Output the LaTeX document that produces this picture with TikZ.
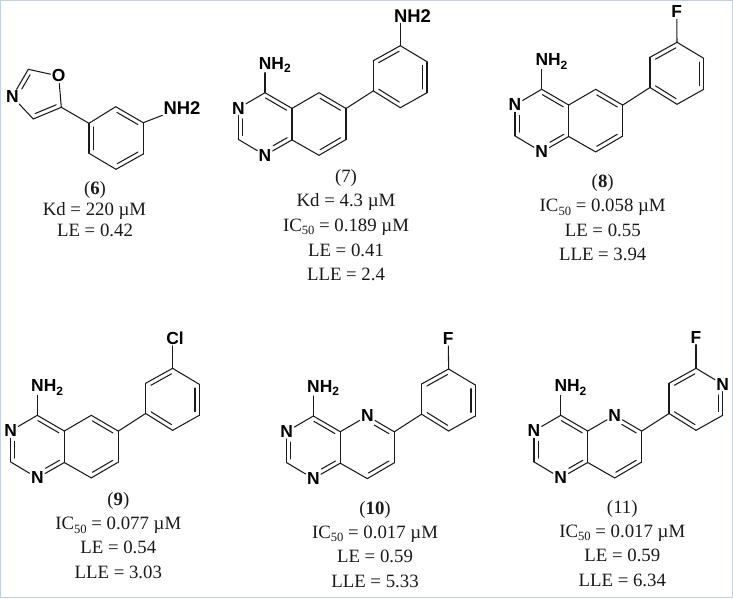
\documentclass[tikz,border=0pt]{standalone}
\usepackage{fontspec}
\setmainfont{Liberation Serif}
\newfontfamily\atomface{Liberation Sans}
\usetikzlibrary{calc}
\definecolor{framecol}{HTML}{C3D0E2}
\definecolor{inkcol}{HTML}{1A1A1A}
\newcommand{\atomtype}{\atomface\fontsize{17.4}{17.4}\selectfont\bfseries}
\newcommand{\bigatomtype}{\atomface\fontsize{18.4}{18.4}\selectfont\bfseries}
\newcommand{\subtwo}{\raisebox{-3.2pt}{\fontsize{12}{12}\selectfont 2}}
\newcommand{\subfifty}{\raisebox{-3.6pt}{\fontsize{12.6}{12.6}\selectfont 50}}
\tikzset{
  bond/.style={draw=inkcol,line width=1.05pt,line cap=round},
  atom/.style={font=\atomtype,text=black,inner sep=1.2pt},
  bigatom/.style={font=\bigatomtype,text=black,inner sep=1pt},
  amine/.style={font=\atomtype,text=black,inner sep=0pt,anchor=base west},
  capline/.style={font=\fontsize{18.8}{19}\selectfont,text=inkcol,anchor=base,inner sep=0pt},
}
% atom slots
\newcommand{\carbon}[2]{\coordinate (#1) at (#2);}
\newcommand{\nitrogen}[2]{\node[atom] (#1) at (#2) {N};}
% double bond: inner line lies to the right of a->b on the page
\newcommand{\dbl}[4]{%
  \draw[bond] (#1) -- (#2);
  \draw[bond] ($(#1)!#3!(#2)!4.3pt!-90:(#2)$) -- ($(#1)!#4!(#2)!4.3pt!-90:(#2)$);}
% fused bicycle: #1 prefix, #2,#3 position of C4, #4 slot for position 5, #5 inner start
\newcommand{\bicycle}[5]{%
  \begin{scope}[shift={(#2,#3)}]
    \coordinate (#1c4) at (0,0);
    \coordinate (#1c4a) at (27,15.7);
    \coordinate (#1c8a) at (27,47.2);
    \nitrogen{#1n1}{0,62.6}
    \coordinate (#1c2) at (-26.7,46.6);
    \nitrogen{#1n3}{-26.7,15.6}
    #4{#1c5}{54,0}
    \coordinate (#1c6) at (81,15.8);
    \coordinate (#1c7) at (81,46.8);
    \coordinate (#1c8) at (54,62.6);
    \node[amine] (#1nh) at (-6.3,-23.4) {NH\subtwo};
    \draw[bond] (#1c4) -- (#1nh.south -| #1c4);
    \dbl{#1c4}{#1c4a}{.1}{.88}
    \draw[bond] (#1c4a) -- (#1c8a);
    \dbl{#1c8a}{#1n1}{.1}{.62}
    \draw[bond] (#1n1) -- (#1c2);
    \dbl{#1c2}{#1n3}{.12}{.66}
    \draw[bond] (#1n3) -- (#1c4);
    \draw[bond] (#1c4a) -- (#1c5);
    \dbl{#1c5}{#1c6}{#5}{.88}
    \draw[bond] (#1c6) -- (#1c7);
    \dbl{#1c7}{#1c8}{.12}{.88}
    \draw[bond] (#1c8) -- (#1c8a);
  \end{scope}}
% pendant ring: #1 prefix, #2,#3 position of C4, #4 slot for ring position p4, #5 inner start
\newcommand{\pendant}[5]{%
  \begin{scope}[shift={(#2,#3)}]
    \coordinate (#1p1) at (108.3,-1.8);
    \coordinate (#1p2) at (108.3,-32);
    \coordinate (#1p3) at (135.3,-47);
    #4{#1p4}{162,-31}
    \coordinate (#1p5) at (162,0);
    \coordinate (#1p6) at (135.3,15);
    \draw[bond] (#1c6) -- (#1p1);
    \draw[bond] (#1p1) -- (#1p2);
    \dbl{#1p2}{#1p3}{.12}{.88}
    \draw[bond] (#1p3) -- (#1p4);
    \dbl{#1p4}{#1p5}{#5}{.88}
    \draw[bond] (#1p5) -- (#1p6);
    \dbl{#1p6}{#1p1}{.12}{.88}
  \end{scope}}
\begin{document}
\begin{tikzpicture}[x=1pt,y=-1pt]
\useasboundingbox (0,0) rectangle (733,598);
\fill[white] (0,0) rectangle (733,598);
\draw[framecol,line width=1.6pt] (0.4,0.4) rectangle (732.6,597.6);

% compound 6
\node[atom] (aO) at (58.7,76) {O};
\node[atom] (aN) at (12.3,96.7) {N};
\coordinate (aC2) at (28.3,69.3);
\coordinate (aC4) at (33.3,119);
\coordinate (aC5) at (61.3,107.3);
\coordinate (ap1) at (89,123.3);
\coordinate (ap2) at (115.7,106.7);
\coordinate (ap3) at (143.3,122.7);
\coordinate (ap4) at (143.3,154);
\coordinate (ap5) at (116,169.3);
\coordinate (ap6) at (89,153.3);
\node[bigatom] (aNH) at (182,107.7) {NH2};
\draw[bond] (aC2) -- (aO);
\draw[bond] (aO) -- (aC5);
\dbl{aC5}{aC4}{.12}{.88}
\draw[bond] (aC4) -- (aN);
\dbl{aN}{aC2}{.36}{.88}
\draw[bond] (aC5) -- (ap1);
\draw[bond] (ap1) -- (ap2);
\dbl{ap2}{ap3}{.12}{.88}
\draw[bond] (ap3) -- (ap4);
\dbl{ap4}{ap5}{.12}{.88}
\draw[bond] (ap5) -- (ap6);
\dbl{ap6}{ap1}{.12}{.88}
\draw[bond] (ap3) -- (aNH);
\node[capline] (a1) at (95,194) {(\textbf{6})};
\node[capline] (a2) at (94.5,215) {Kd = 220 µM};
\node[capline] (a3) at (95,236) {LE = 0.42};

% compound 7
\bicycle{b}{265}{92.7}{\carbon}{.12}
\pendant{b}{265}{92.7}{\carbon}{.12}
\node[bigatom] (bNH) at (412.4,15.7) {NH2};
\draw[bond] (bp3) -- (bNH.south -| bp3);
\node[capline] (b1) at (346,182.5) {(7)};
\node[capline] (b2) at (346,206.7) {Kd = 4.3 µM};
\node[capline] (b3) at (346,231) {IC\subfifty{} = 0.189 µM};
\node[capline] (b4) at (346,256) {LE = 0.41};
\node[capline] (b5) at (346,280) {LLE = 2.4};

% compound 8
\bicycle{c}{541.7}{89.3}{\carbon}{.12}
\pendant{c}{541.7}{89.3}{\carbon}{.12}
\node[atom] (cF) at (676.7,11.7) {F};
\draw[bond] (cp3) -- (cF);
\node[capline] (c1) at (602.7,187.5) {(\textbf{8})};
\node[capline] (c2) at (602.7,211.7) {IC\subfifty{} = 0.058 µM};
\node[capline] (c3) at (602.7,236) {LE = 0.55};
\node[capline] (c4) at (602.7,260.3) {LLE = 3.94};

% compound 9
\bicycle{d}{37.3}{415.3}{\carbon}{.12}
\pendant{d}{37.3}{415.3}{\carbon}{.12}
\node[atom] (dCl) at (175,338) {Cl};
\draw[bond] (dp3) -- (dCl.south -| dp3);
\node[capline] (d1) at (118.3,505) {(\textbf{9})};
\node[capline] (d2) at (118.3,529.7) {IC\subfifty{} = 0.077 µM};
\node[capline] (d3) at (118.3,553.3) {LE = 0.54};
\node[capline] (d4) at (118.3,578.3) {LLE = 3.03};

% compound 10
\bicycle{e}{313.3}{416}{\nitrogen}{.34}
\pendant{e}{313.3}{416}{\carbon}{.12}
\node[atom] (eF) at (448.3,338.7) {F};
\draw[bond] (ep3) -- (eF);
\node[capline] (e1) at (375,514) {(\textbf{10})};
\node[capline] (e2) at (375,538.3) {IC\subfifty{} = 0.017 µM};
\node[capline] (e3) at (375,562.3) {LE = 0.59};
\node[capline] (e4) at (375,587.3) {LLE = 5.33};

% compound 11
\bicycle{f}{560.7}{415.3}{\nitrogen}{.34}
\pendant{f}{560.7}{415.3}{\nitrogen}{.34}
\node[atom] (fF) at (696,337.3) {F};
\draw[bond] (fp3) -- (fF);
\node[capline] (f1) at (622.3,513.3) {(11)};
\node[capline] (f2) at (622.3,537.3) {IC\subfifty{} = 0.017 µM};
\node[capline] (f3) at (622.3,561.3) {LE = 0.59};
\node[capline] (f4) at (622.3,586.3) {LLE = 6.34};
\end{tikzpicture}
\end{document}
